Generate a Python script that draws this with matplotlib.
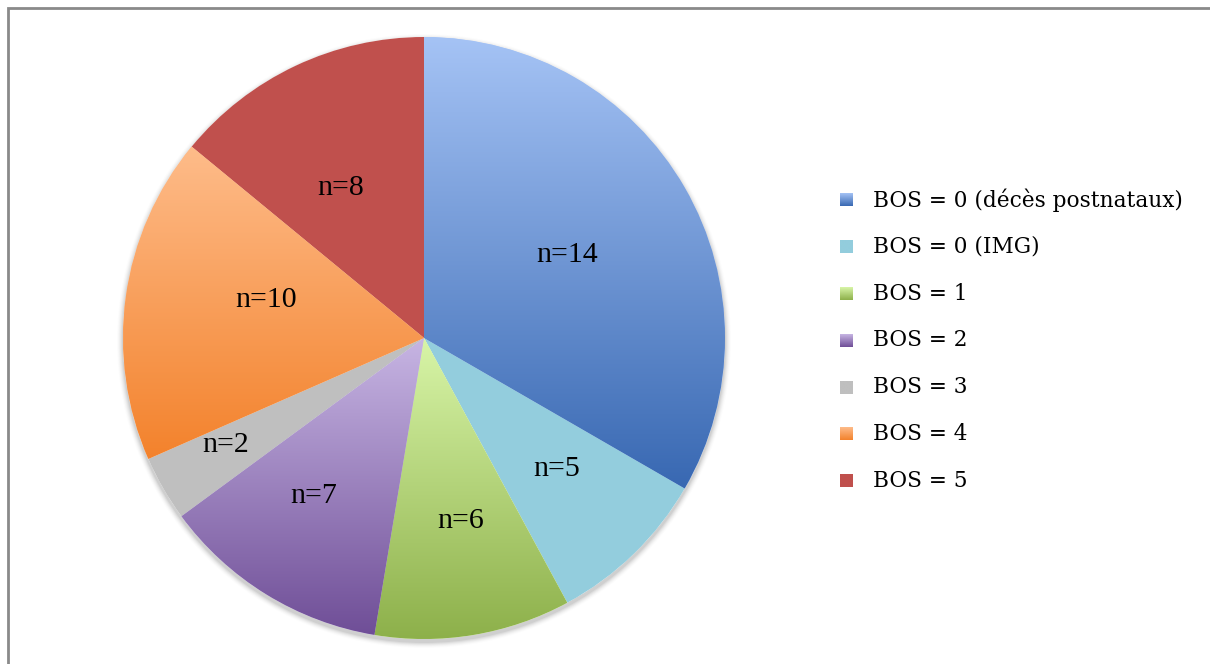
import numpy as np
import matplotlib
matplotlib.use("Agg")
import matplotlib.pyplot as plt
from matplotlib.colors import LinearSegmentedColormap
from matplotlib.patches import Rectangle, Circle

# data
labels = ["BOS = 0 (décès postnataux)", "BOS = 0 (IMG)", "BOS = 1", "BOS = 2",
          "BOS = 3", "BOS = 4", "BOS = 5"]
slice_values = [19, 5, 6, 7, 2, 10, 8]   # slice sizes as drawn
n_labels = [14, 5, 6, 7, 2, 10, 8]       # text shown on slices
top_colors = ["#A5C3F5", "#93CDDD", "#D8F5A8", "#C7B5E3", "#BFBFBF", "#FEBC8A", "#C0504D"]
bot_colors = ["#3868B2", "#93CDDD", "#8DB04A", "#6F4E97", "#BFBFBF", "#F3822C", "#C0504D"]
# label placement: distance (fraction of radius) and angular nudge from slice middle (deg)
lab_r = [0.55, 0.62, 0.62, 0.64, 0.75, 0.54, 0.57]
lab_nudge = [0, 1, 1.7, -3.2, -1.7, -5.5, 3.9]

W, H = 1210, 664
fig = plt.figure(figsize=(W / 100, H / 100), dpi=100)
ax = fig.add_axes([0, 0, 1, 1])

cx, cy, R = 424, 326, 301

# soft shadow
for i, a in enumerate(np.linspace(0.05, 0.012, 6)):
    ax.add_patch(Circle((cx, cy - 3), R + 1 + i, color="black", alpha=a, lw=0, zorder=0))
ax.add_patch(Circle((cx, cy), R, color="white", lw=0, zorder=0.5))

wedges, _ = ax.pie(slice_values, startangle=90, counterclock=False, radius=R,
                   center=(cx, cy), colors=top_colors,
                   wedgeprops=dict(linewidth=0))

grad = np.linspace(0, 1, 256).reshape(-1, 1)
for w, c1, c2 in zip(wedges, top_colors, bot_colors):
    w.set_zorder(1)
    if c1 == c2:
        continue
    verts = w.get_path().vertices
    x0, y0 = verts.min(axis=0)
    x1, y1 = verts.max(axis=0)
    cmap = LinearSegmentedColormap.from_list("g", [c2, c1])
    im = ax.imshow(grad, extent=[x0, x1, y0, y1], origin="lower", cmap=cmap,
                   aspect="auto", zorder=2, interpolation="bilinear")
    im.set_clip_path(w)

for w, n, r, d in zip(wedges, n_labels, lab_r, lab_nudge):
    t = np.deg2rad((w.theta1 + w.theta2) / 2 + d)
    ax.text(cx + r * R * np.cos(t), cy + r * R * np.sin(t), f"n={n}",
            ha="center", va="center", fontsize=21.5, family="Liberation Serif",
            zorder=5)

# legend
sq = 13
for i, (lab, c1, c2) in enumerate(zip(labels, top_colors, bot_colors)):
    ly = H - 200 - i * 46.8
    cmap = LinearSegmentedColormap.from_list("l", [c2, c1])
    ax.imshow(grad, extent=[840, 840 + sq, ly - sq / 2, ly + sq / 2], origin="lower",
              cmap=cmap, aspect="auto", zorder=3)
    ax.text(873, ly, lab, ha="left", va="center", fontsize=15.6,
            family="DejaVu Serif", color="black", zorder=5)

# outer frame
ax.add_patch(Rectangle((7.5, -20), W, H - 8 + 20, fill=False, ec="#8A8A8A",
                       lw=2, zorder=6))

ax.set_xlim(0, W)
ax.set_ylim(0, H)
ax.set_aspect("auto")
ax.axis("off")
fig.savefig("out.png", dpi=100, facecolor="white")
